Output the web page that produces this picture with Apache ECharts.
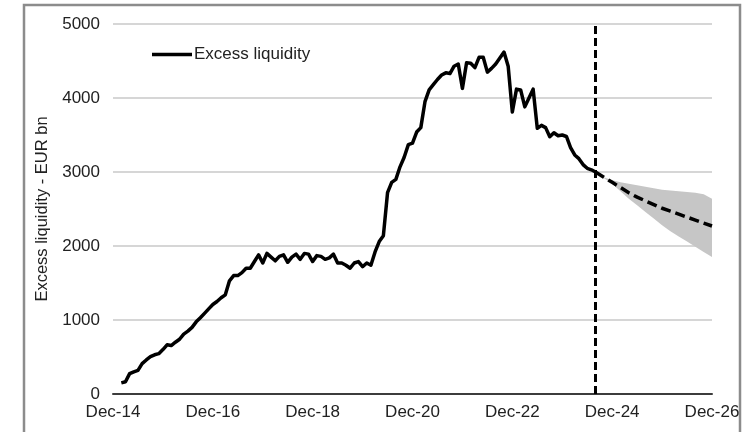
<!DOCTYPE html>
<html>
<head>
<meta charset="utf-8">
<script src="https://cdn.jsdelivr.net/npm/echarts@6/dist/echarts.min.js"></script>
<style>
html,body{margin:0;padding:0;background:#fff;}
#chart{width:746px;height:432px;}
</style>
</head>
<body>
<div id="chart"></div>
<script>
// x positions are month offsets from Dec-14
const tickLabels = ['Dec-14','Dec-16','Dec-18','Dec-20','Dec-22','Dec-24','Dec-26'];
const seriesName = 'Excess liquidity';
const yAxisTitle = 'Excess liquidity - EUR bn';
const histStartMonth = 2; // Feb-15
const histValues = [
  150,165,275,300,320,410,460,505,530,545,
  600,665,655,700,740,810,850,900,975,1030,
  1090,1150,1210,1250,1300,1340,1530,1600,1600,1640,
  1700,1700,1790,1880,1770,1900,1850,1800,1860,1880,
  1780,1850,1890,1820,1900,1890,1790,1870,1860,1820,
  1840,1890,1770,1770,1740,1700,1770,1790,1720,1770,
  1740,1920,2060,2140,2720,2860,2900,3070,3200,3370,
  3390,3540,3600,3950,4110,4180,4250,4310,4340,4330,
  4430,4460,4130,4476,4470,4410,4550,4550,4350,4400,
  4460,4540,4620,4430,3810,4120,4110,3880,4000,4120,
  3590,3630,3600,3476,3530,3490,3500,3480,3330,3230,
  3180,3100,3050,3030,3000
];
const splitMonth = 116; // Aug-24
const fcMonths  = [116,118,120,122,124,126,128,130,132,134,136,138,140,142,144];
const fcCentral = [3000,2930,2860,2790,2720,2660,2610,2560,2510,2470,2430,2390,2350,2310,2270];
const fcUpper   = [3000,2930,2890,2860,2840,2820,2800,2780,2760,2750,2740,2730,2720,2700,2640];
const fcLower   = [3000,2920,2840,2740,2640,2550,2460,2370,2280,2200,2130,2060,1990,1920,1850];

const histData = histValues.map((v,i)=>[histStartMonth+i, v]);
const fcData = fcMonths.map((m,i)=>[m, fcCentral[i]]);

const chart = echarts.init(document.getElementById('chart'), null, {renderer:'canvas'});
const font = '"Liberation Sans", Arial, sans-serif';
chart.setOption({
  animation:false,
  backgroundColor:'#fff',
  graphic:[{
    type:'rect', silent:true, z:-10,
    shape:{x:24,y:5,width:716,height:440},
    style:{fill:'none', stroke:'#8c8c8c', lineWidth:2.5}
  }],
  grid:{left:113, right:34, top:24, bottom:38},
  legend:{
    data:[seriesName],
    left:147, top:41,
    icon:'rect', itemWidth:40, itemHeight:3.5,
    textStyle:{fontFamily:font, fontSize:17, color:'#222', padding:[0,0,0,-3]}
  },
  xAxis:{
    type:'value', min:0, max:144, interval:24,
    axisLine:{show:true, onZero:false, lineStyle:{color:'#3c3c3c', width:2}},
    axisTick:{show:false},
    splitLine:{show:false},
    axisLabel:{
      fontFamily:font, fontSize:17, color:'#222', margin:10,
      showMinLabel:true, showMaxLabel:true,
      formatter:v=>tickLabels[Math.round(v/24)]
    }
  },
  yAxis:{
    type:'value', min:0, max:5000, interval:1000,
    name:yAxisTitle, nameLocation:'middle', nameGap:57, nameRotate:90,
    nameTextStyle:{fontFamily:font, fontSize:16.5, color:'#222'},
    axisLine:{show:false}, axisTick:{show:false},
    axisLabel:{fontFamily:font, fontSize:17, color:'#222', margin:13, formatter:v=>String(v)},
    splitLine:{lineStyle:{color:'#d6d6d6', width:2}}
  },
  series:[
    {
      type:'custom', name:'band', silent:true, z:1,
      encode:{x:0,y:1},
      data:[[fcMonths[0], fcUpper[0]]],
      renderItem:(params, api)=>{
        const pts=[];
        for(let i=0;i<fcMonths.length;i++) pts.push(api.coord([fcMonths[i], fcUpper[i]]));
        for(let i=fcMonths.length-1;i>=0;i--) pts.push(api.coord([fcMonths[i], fcLower[i]]));
        return {type:'polygon', shape:{points:pts}, style:{fill:'#c6c6c6'}};
      }
    },
    {
      type:'line', name:'forecast', data:fcData, symbol:'none', z:3,
      lineStyle:{color:'#000', width:3.5, type:[10,5]},
      markLine:{
        silent:true, symbol:'none', label:{show:false},
        lineStyle:{color:'#000', width:3, type:[8,4]},
        data:[{xAxis:splitMonth}]
      }
    },
    {
      type:'line', name:seriesName, data:histData, symbol:'none', z:4,
      itemStyle:{color:'#000'},
      lineStyle:{color:'#000', width:3.5, join:'round'}
    }
  ]
});
</script>
</body>
</html>
